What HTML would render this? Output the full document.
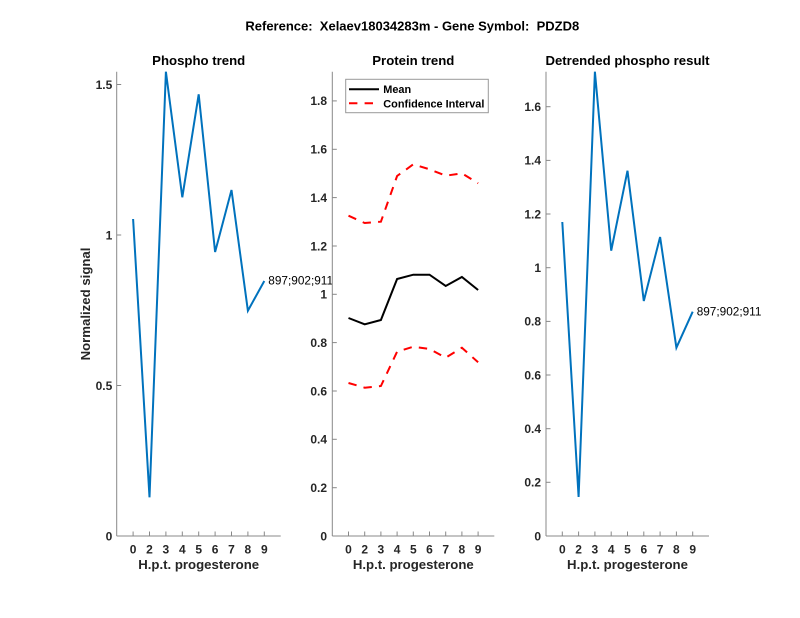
<!DOCTYPE html>
<html><head><meta charset="utf-8"><style>
html,body{margin:0;padding:0;background:#fff;}
svg{display:block;}
text{font-family:"Liberation Sans",Arial,sans-serif;fill:#262626;}
.t{font-weight:bold;font-size:12px;}
.b{font-weight:bold;font-size:13.2px;}
</style></head><body>
<svg width="800" height="618" viewBox="0 0 800 618" xmlns="http://www.w3.org/2000/svg">
<rect width="800" height="618" fill="#fff"/>
<text x="412.3" y="30.7" text-anchor="middle" style="font-weight:bold;font-size:13px;fill:#000" xml:space="preserve">Reference:  Xelaev18034283m - Gene Symbol:  PDZD8</text>

<!-- LEFT PANEL -->
<g>
<text class="b" x="198.7" y="65" text-anchor="middle" style="fill:#000">Phospho trend</text>
<polyline points="133.1,219 149.5,497.3 165.9,71.7 182.3,197.3 198.7,94.3 215.1,252 231.5,190 247.9,310.7 264.3,281" fill="none" stroke="#0072BD" stroke-width="2" stroke-linejoin="miter"/>
<text x="268.3" y="284.5" style="font-size:11.8px;fill:#000">897;902;911</text>
<g stroke="#888" stroke-width="1" fill="none">
<line x1="116.7" y1="71.7" x2="116.7" y2="536"/>
<line x1="116.7" y1="536" x2="280.7" y2="536"/>
<line x1="116.7" y1="385.5" x2="121.2" y2="385.5"/>
<line x1="116.7" y1="235" x2="121.2" y2="235"/>
<line x1="116.7" y1="84.5" x2="121.2" y2="84.5"/>
<line x1="133.1" y1="536" x2="133.1" y2="531.5"/>
<line x1="149.5" y1="536" x2="149.5" y2="531.5"/>
<line x1="165.9" y1="536" x2="165.9" y2="531.5"/>
<line x1="182.3" y1="536" x2="182.3" y2="531.5"/>
<line x1="198.7" y1="536" x2="198.7" y2="531.5"/>
<line x1="215.1" y1="536" x2="215.1" y2="531.5"/>
<line x1="231.5" y1="536" x2="231.5" y2="531.5"/>
<line x1="247.9" y1="536" x2="247.9" y2="531.5"/>
<line x1="264.3" y1="536" x2="264.3" y2="531.5"/>
</g>
<g class="t" text-anchor="end">
<text class="t" x="112.3" y="540.3">0</text>
<text class="t" x="112.3" y="389.8">0.5</text>
<text class="t" x="112.3" y="239.3">1</text>
<text class="t" x="112.3" y="88.8">1.5</text>
</g>
<g text-anchor="middle">
<text class="t" x="133.1" y="553.3">0</text>
<text class="t" x="149.5" y="553.3">2</text>
<text class="t" x="165.9" y="553.3">3</text>
<text class="t" x="182.3" y="553.3">4</text>
<text class="t" x="198.7" y="553.3">5</text>
<text class="t" x="215.1" y="553.3">6</text>
<text class="t" x="231.5" y="553.3">7</text>
<text class="t" x="247.9" y="553.3">8</text>
<text class="t" x="264.3" y="553.3">9</text>
</g>
<text class="b" x="198.7" y="569" text-anchor="middle">H.p.t. progesterone</text>
<text class="b" transform="translate(90.2,304) rotate(-90)" text-anchor="middle">Normalized signal</text>
</g>

<!-- MIDDLE PANEL -->
<g>
<rect x="332.3" y="71.7" width="162" height="464.3" fill="#fff"/>
<text class="b" x="413.3" y="65" text-anchor="middle" style="fill:#000">Protein trend</text>
<polyline points="348.5,215.7 364.7,223 380.9,221.7 397.1,176 413.3,164.3 429.5,169.3 445.7,175.7 461.9,173.3 478.1,183.3" fill="none" stroke="#ff0000" stroke-width="2" stroke-dasharray="8.4,7.2"/>
<polyline points="348.5,383 364.7,387.7 380.9,386 397.1,351.7 413.3,346.7 429.5,349 445.7,357.7 461.9,347.7 478.1,362.3" fill="none" stroke="#ff0000" stroke-width="2" stroke-dasharray="8.4,7.2"/>
<polyline points="348.5,318 364.7,324.3 380.9,320 397.1,279 413.3,274.7 429.5,274.7 445.7,286 461.9,277 478.1,290" fill="none" stroke="#000" stroke-width="2"/>
<g stroke="#888" stroke-width="1" fill="none">
<line x1="332.3" y1="71.7" x2="332.3" y2="536"/>
<line x1="332.3" y1="536" x2="494.3" y2="536"/>
<line x1="332.3" y1="487.7" x2="336.8" y2="487.7"/>
<line x1="332.3" y1="439.3" x2="336.8" y2="439.3"/>
<line x1="332.3" y1="391" x2="336.8" y2="391"/>
<line x1="332.3" y1="342.6" x2="336.8" y2="342.6"/>
<line x1="332.3" y1="294.3" x2="336.8" y2="294.3"/>
<line x1="332.3" y1="246" x2="336.8" y2="246"/>
<line x1="332.3" y1="197.6" x2="336.8" y2="197.6"/>
<line x1="332.3" y1="149.3" x2="336.8" y2="149.3"/>
<line x1="332.3" y1="100.9" x2="336.8" y2="100.9"/>
<line x1="348.5" y1="536" x2="348.5" y2="531.5"/>
<line x1="364.7" y1="536" x2="364.7" y2="531.5"/>
<line x1="380.9" y1="536" x2="380.9" y2="531.5"/>
<line x1="397.1" y1="536" x2="397.1" y2="531.5"/>
<line x1="413.3" y1="536" x2="413.3" y2="531.5"/>
<line x1="429.5" y1="536" x2="429.5" y2="531.5"/>
<line x1="445.7" y1="536" x2="445.7" y2="531.5"/>
<line x1="461.9" y1="536" x2="461.9" y2="531.5"/>
<line x1="478.1" y1="536" x2="478.1" y2="531.5"/>
</g>
<g text-anchor="end">
<text class="t" x="327" y="540.3">0</text>
<text class="t" x="327" y="492">0.2</text>
<text class="t" x="327" y="443.6">0.4</text>
<text class="t" x="327" y="395.3">0.6</text>
<text class="t" x="327" y="346.9">0.8</text>
<text class="t" x="327" y="298.6">1</text>
<text class="t" x="327" y="250.3">1.2</text>
<text class="t" x="327" y="201.9">1.4</text>
<text class="t" x="327" y="153.6">1.6</text>
<text class="t" x="327" y="105.2">1.8</text>
</g>
<g text-anchor="middle">
<text class="t" x="348.5" y="553.3">0</text>
<text class="t" x="364.7" y="553.3">2</text>
<text class="t" x="380.9" y="553.3">3</text>
<text class="t" x="397.1" y="553.3">4</text>
<text class="t" x="413.3" y="553.3">5</text>
<text class="t" x="429.5" y="553.3">6</text>
<text class="t" x="445.7" y="553.3">7</text>
<text class="t" x="461.9" y="553.3">8</text>
<text class="t" x="478.1" y="553.3">9</text>
</g>
<text class="b" x="413.3" y="569" text-anchor="middle">H.p.t. progesterone</text>
<!-- legend -->
<rect x="345.7" y="79.3" width="142.6" height="33.4" fill="#fff" stroke="#999" stroke-width="1"/>
<line x1="349" y1="89.3" x2="379" y2="89.3" stroke="#000" stroke-width="2"/>
<line x1="349" y1="103.3" x2="379" y2="103.3" stroke="#ff0000" stroke-width="2" stroke-dasharray="8.4,7.2"/>
<text x="383.3" y="93" style="font-weight:bold;font-size:10.9px;fill:#000">Mean</text>
<text x="383.3" y="107.3" style="font-weight:bold;font-size:10.9px;fill:#000">Confidence Interval</text>
</g>

<!-- RIGHT PANEL -->
<g>
<text class="b" x="627.5" y="65" text-anchor="middle" style="fill:#000">Detrended phospho result</text>
<polyline points="562.3,222 578.6,497 594.9,71.7 611.2,250.7 627.5,170.7 643.8,301 660.1,237 676.4,347.7 692.7,311.7" fill="none" stroke="#0072BD" stroke-width="2"/>
<text x="696.7" y="315.7" style="font-size:11.8px;fill:#000">897;902;911</text>
<g stroke="#888" stroke-width="1" fill="none">
<line x1="546" y1="71.7" x2="546" y2="536"/>
<line x1="546" y1="536" x2="709" y2="536"/>
<line x1="546" y1="482.3" x2="550.5" y2="482.3"/>
<line x1="546" y1="428.7" x2="550.5" y2="428.7"/>
<line x1="546" y1="375" x2="550.5" y2="375"/>
<line x1="546" y1="321.4" x2="550.5" y2="321.4"/>
<line x1="546" y1="267.7" x2="550.5" y2="267.7"/>
<line x1="546" y1="214" x2="550.5" y2="214"/>
<line x1="546" y1="160.4" x2="550.5" y2="160.4"/>
<line x1="546" y1="106.7" x2="550.5" y2="106.7"/>
<line x1="562.3" y1="536" x2="562.3" y2="531.5"/>
<line x1="578.6" y1="536" x2="578.6" y2="531.5"/>
<line x1="594.9" y1="536" x2="594.9" y2="531.5"/>
<line x1="611.2" y1="536" x2="611.2" y2="531.5"/>
<line x1="627.5" y1="536" x2="627.5" y2="531.5"/>
<line x1="643.8" y1="536" x2="643.8" y2="531.5"/>
<line x1="660.1" y1="536" x2="660.1" y2="531.5"/>
<line x1="676.4" y1="536" x2="676.4" y2="531.5"/>
<line x1="692.7" y1="536" x2="692.7" y2="531.5"/>
</g>
<g text-anchor="end">
<text class="t" x="541" y="540.3">0</text>
<text class="t" x="541" y="486.6">0.2</text>
<text class="t" x="541" y="433">0.4</text>
<text class="t" x="541" y="379.3">0.6</text>
<text class="t" x="541" y="325.7">0.8</text>
<text class="t" x="541" y="272">1</text>
<text class="t" x="541" y="218.3">1.2</text>
<text class="t" x="541" y="164.7">1.4</text>
<text class="t" x="541" y="111">1.6</text>
</g>
<g text-anchor="middle">
<text class="t" x="562.3" y="553.3">0</text>
<text class="t" x="578.6" y="553.3">2</text>
<text class="t" x="594.9" y="553.3">3</text>
<text class="t" x="611.2" y="553.3">4</text>
<text class="t" x="627.5" y="553.3">5</text>
<text class="t" x="643.8" y="553.3">6</text>
<text class="t" x="660.1" y="553.3">7</text>
<text class="t" x="676.4" y="553.3">8</text>
<text class="t" x="692.7" y="553.3">9</text>
</g>
<text class="b" x="627.5" y="569" text-anchor="middle">H.p.t. progesterone</text>
</g>
</svg>
</body></html>
